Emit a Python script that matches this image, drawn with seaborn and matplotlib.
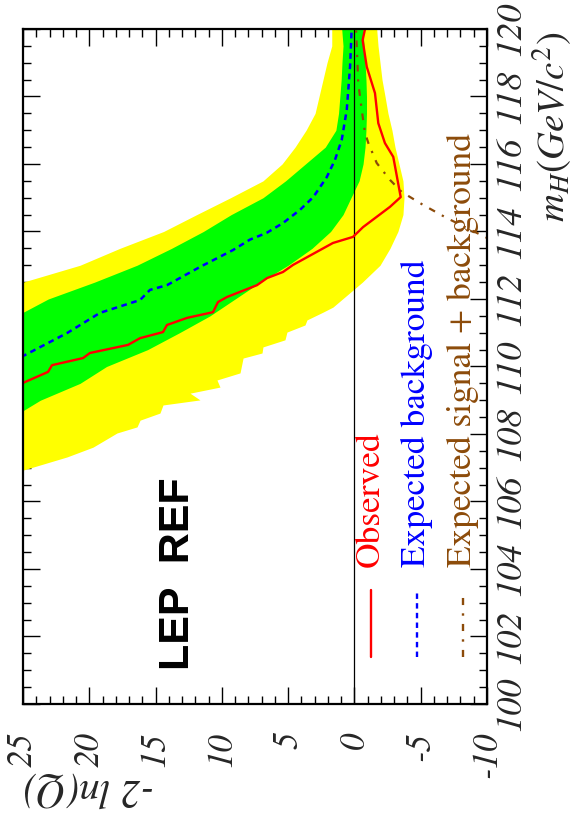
import numpy as np
import pandas as pd
import matplotlib
matplotlib.use("Agg")
import matplotlib.pyplot as plt
from matplotlib.ticker import MultipleLocator, FixedLocator
import seaborn as sns

# ---------------- data ----------------
# 2 sigma band (yellow), Higgs mass in GeV/c^2 and -2lnQ limits
yellow_m = [106.93, 107.32, 107.61, 108.03, 108.21, 108.41, 108.62, 108.86, 109.01,
            109.21, 109.39, 109.60, 109.81, 110.25, 110.40, 110.58, 110.79, 111.02,
            111.23, 111.38, 111.61, 111.76, 112.0, 112.5, 113.0, 113.5, 114.0,
            114.5, 115.0, 115.5, 116.0, 116.5, 117.0, 117.5, 118.0, 118.5, 119.0,
            119.5, 120.0]
yellow_lo = [25.0, 21.68, 19.72, 17.91, 16.40, 16.17, 14.67, 14.44, 11.65,
             12.40, 10.14, 10.37, 8.63, 8.40, 6.97, 6.90, 5.24, 5.09,
             3.73, 3.58, 2.37, 1.62, 0.9, -0.6, -1.93, -2.68, -3.28,
             -3.66, -3.74, -3.66, -3.36, -3.06, -2.83, -2.53, -2.31, -2.08, -1.93,
             -1.78, -1.68]
yellow_hi = [36.0, 35.5, 35.0, 34.0, 34.0, 33.5, 33.0, 32.5, 32.0,
             31.5, 31.0, 31.0, 30.5, 30.0, 30.0, 29.5, 29.0, 29.0,
             28.5, 28.5, 28.0, 27.6, 27.0, 25.0, 20.7, 17.7, 14.4,
             11.9, 9.35, 6.9, 5.46, 4.48, 3.65, 2.97, 2.67, 2.37, 2.07,
             1.71, 1.71]

# 1 sigma band (green)
green_m = [107.5, 108.0, 108.5, 109.0, 109.5, 110.0, 110.5, 111.0, 111.5, 112.0,
           112.5, 113.0, 113.5, 114.0, 114.5, 115.0, 115.5, 116.0, 116.5, 117.0,
           117.5, 118.0, 118.5, 119.0, 119.5, 120.0]
green_hi = [32.0, 31.0, 30.0, 29.5, 29.0, 28.5, 28.0, 27.0, 25.5, 23.1,
            19.6, 16.4, 13.8, 11.4, 9.3, 6.9, 5.2, 3.7, 2.2, 1.4,
            1.2, 1.1, 1.0, 0.94, 0.86, 0.96]
green_lo = [28.5, 27.5, 25.8, 23.7, 20.7, 18.7, 15.6, 13.2, 10.9, 9.0,
            7.1, 5.0, 3.2, 1.8, 0.86, 0.26, -0.35, -0.65, -0.8, -0.87,
            -0.91, -0.91, -0.87, -0.8, -0.72, -0.65]

# observed -2lnQ
obs_m = [120.0, 119.67, 118.88, 118.10, 117.21, 116.62, 116.21, 115.02, 114.73,
         114.13, 113.84, 113.66, 113.01, 112.80, 112.62, 112.41, 112.06, 111.91,
         111.61, 111.44, 111.23, 111.02, 110.84, 110.64, 110.40, 110.25, 110.04,
         109.84, 109.54, 109.30]
obs_v = [-0.8, -0.62, -0.93, -1.55, -1.80, -2.3, -2.93, -3.49, -2.68,
         -0.65, 0.11, 1.62, 4.63, 5.39, 6.59, 7.35, 9.61, 10.29,
         10.67, 12.63, 14.14, 14.44, 16.17, 17.08, 19.95, 20.47, 22.81,
         23.11, 24.85, 26.0]

# expected background median
bkg_m = [120.0, 118.88, 117.60, 116.71, 116.12, 115.61, 115.02, 114.64, 114.25,
         113.96, 113.76, 113.45, 112.95, 112.41, 112.27, 111.97, 111.59, 110.99,
         110.34, 110.0]
bkg_v = [0.21, 0.33, 0.58, 0.96, 1.47, 2.09, 3.10, 4.11, 5.39,
         6.62, 7.88, 9.16, 11.65, 14.14, 15.42, 16.17, 19.19, 21.68,
         24.85, 26.5]

# expected signal + background
sb_m = [120.0, 118.40, 117.60, 116.92, 116.62, 116.03, 115.53, 115.17, 114.79,
        114.40, 113.81, 113.6]
sb_v = [-0.12, -0.29, -0.55, -0.80, -1.05, -1.68, -2.68, -3.57, -5.17,
        -6.96, -10.0, -11.0]

x_ticks = [25, 20, 15, 10, 5, 0, -5, -10]
x_ticklabels = ["25", "20", "15", "10", "5", "0", "-5", "-10"]
y_ticks = [100, 102, 104, 106, 108, 110, 112, 114, 116, 118, 120]
y_ticklabels = [str(t) for t in y_ticks]

legend_labels = ["Observed", "Expected background", "Expected signal + background"]

# ---------------- style ----------------
sns.set_theme(style="ticks")
plt.rcParams["font.family"] = ["STIXGeneral", "Liberation Serif", "DejaVu Serif"]
plt.rcParams["mathtext.fontset"] = "stix"

SERIF = ["STIXGeneral", "Liberation Serif", "DejaVu Serif"]
RED = "#FF0000"
BLUE = "#0000FF"
BROWN = "#8C4B0A"
GREEN = "#00FF00"
YELLOW = "#FFFF00"

W, H = 576, 822
fig = plt.figure(figsize=(W / 100, H / 100), dpi=100)
fig.patch.set_facecolor("white")
L, R, T, B = 23, 487, 29, 704
ax = fig.add_axes([L / W, 1 - B / H, (R - L) / W, (B - T) / H])
ax.set_facecolor("white")

# bands
ax.fill_betweenx(yellow_m, yellow_lo, yellow_hi, color=YELLOW, lw=0, zorder=1)
ax.fill_betweenx(green_m, green_lo, green_hi, color=GREEN, lw=0, zorder=2)

# zero line
ax.axvline(0, color="black", lw=0.9, zorder=3)

obs_df = pd.DataFrame({"v": obs_v, "m": obs_m})
bkg_df = pd.DataFrame({"v": bkg_v, "m": bkg_m})
sb_df = pd.DataFrame({"v": sb_v, "m": sb_m})

BKG_LS = (0, (2.3, 1.8))
SB_LS = (0, (3, 3.5, 1, 3.5))
sns.lineplot(data=sb_df, x="v", y="m", orient="y", estimator=None, color=BROWN,
             lw=1.6, linestyle=SB_LS, ax=ax, zorder=4)
sns.lineplot(data=bkg_df, x="v", y="m", orient="y", estimator=None, color=BLUE,
             lw=1.8, linestyle=BKG_LS, ax=ax, zorder=5)
sns.lineplot(data=obs_df, x="v", y="m", orient="y", estimator=None, color=RED,
             lw=1.7, ax=ax, zorder=6)

ax.set_xlim(25, -10)
ax.set_ylim(100, 120)
ax.set_xlabel("")
ax.set_ylabel("")

# ticks
ax.xaxis.set_major_locator(FixedLocator(x_ticks))
ax.xaxis.set_minor_locator(MultipleLocator(1))
ax.yaxis.set_major_locator(FixedLocator(y_ticks))
ax.yaxis.set_minor_locator(MultipleLocator(0.5))
ax.set_xticklabels(x_ticklabels, rotation=90, fontsize=25, fontstyle="italic",
                   fontfamily=SERIF)
ax.set_yticklabels(y_ticklabels, rotation=90, fontsize=26, fontstyle="italic",
                   fontfamily=SERIF, va="center")
ax.tick_params(which="both", direction="in", top=True, bottom=True, left=True,
               right=True, labelleft=False, labelright=True, labelbottom=True,
               labeltop=False, color="black", width=1.0)
ax.tick_params(which="major", length=12)
ax.tick_params(which="minor", length=6)
ax.tick_params(axis="x", which="major", pad=20)
ax.tick_params(axis="y", which="major", pad=6)
for s in ax.spines.values():
    s.set_visible(True)
    s.set_color("black")
    s.set_linewidth(1.6)
    s.set_zorder(10)

# legend (rotated, drawn by hand)
leg_x = [0.75, 0.849, 0.948]
leg_colors = [RED, BLUE, BROWN]
leg_styles = ["-", BKG_LS, SB_LS]
for lx, c, ls, lab in zip(leg_x, leg_colors, leg_styles, legend_labels):
    ax.plot([lx, lx], [0.0696, 0.169], transform=ax.transAxes, color=c,
            lw=1.7, linestyle=ls, zorder=8)
    ax.text(lx, 0.203, lab, transform=ax.transAxes, rotation=90, color=c,
            ha="center", va="bottom", fontsize=25.5, fontfamily=SERIF,
            zorder=8)

ax.text(0.334, 0.0504, "LEP  REF", transform=ax.transAxes, rotation=90,
        ha="center", va="bottom", fontsize=31, fontweight="bold",
        fontfamily=["Liberation Sans", "DejaVu Sans"], color="black", zorder=8)

# axis titles
fig.text(23 / W, 1 - 790 / H, "-2 ln(Q)", rotation=180, ha="left", va="center",
         fontsize=29, fontstyle="italic", fontfamily=SERIF)
fig.text(552 / W, 1 - 32 / H, r"$m_{H}(GeV/c^{2})$", rotation=90, ha="center",
         va="top", fontsize=28)

fig.savefig("out.png", dpi=100, facecolor="white")
